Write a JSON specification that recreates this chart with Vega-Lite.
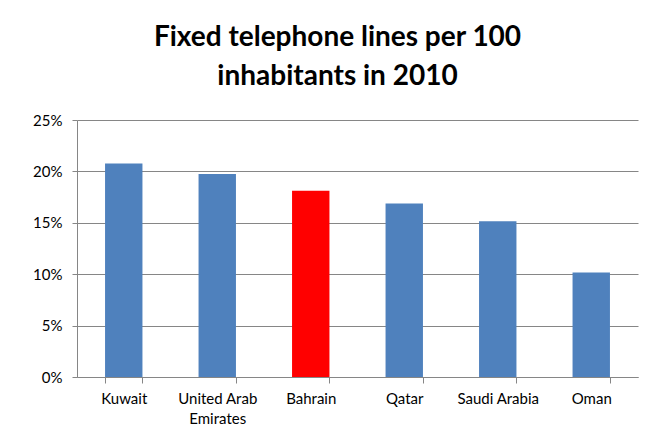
{
  "$schema": "https://vega.github.io/schema/vega-lite/v6.json",
  "autosize": {"type": "none"},
  "width": 561,
  "height": 257,
  "padding": {"left": 77, "top": 120, "right": 7, "bottom": 62},
  "background": "white",
  "title": {
    "text": ["Fixed telephone lines per 100", "inhabitants in 2010"],
    "font": "Lato",
    "fontSize": 28,
    "fontWeight": "bold",
    "color": "#000000",
    "lineHeight": 39,
    "anchor": "middle",
    "dx": -20,
    "offset": 22
  },
  "data": {
    "values": [
      {"country": "Kuwait", "value": 0.2078},
      {"country": "United Arab Emirates", "value": 0.1974},
      {"country": "Bahrain", "value": 0.1811},
      {"country": "Qatar", "value": 0.1688},
      {"country": "Saudi Arabia", "value": 0.1516},
      {"country": "Oman", "value": 0.1016}
    ]
  },
  "mark": {"type": "bar"},
  "encoding": {
    "x": {
      "field": "country",
      "type": "nominal",
      "sort": null,
      "scale": {"paddingInner": 0.6, "paddingOuter": 0.3},
      "axis": {
        "title": null,
        "labelAngle": 0,
        "labelFont": "Lato",
        "labelFontSize": 15,
        "labelColor": "#000000",
        "labelPadding": 8,
        "labelLineHeight": 20,
        "labelExpr": "datum.label == 'United Arab Emirates' ? ['United Arab', 'Emirates'] : datum.label",
        "tickBand": "extent",
        "tickSize": 6,
        "tickColor": "#868686",
        "domainColor": "#868686",
        "grid": false
      }
    },
    "y": {
      "field": "value",
      "type": "quantitative",
      "scale": {"domain": [0, 0.25], "nice": false},
      "axis": {
        "title": null,
        "format": ".0%",
        "values": [0, 0.05, 0.1, 0.15, 0.2, 0.25],
        "labelFont": "Lato",
        "labelFontSize": 15,
        "labelColor": "#000000",
        "labelPadding": 10,
        "tickSize": 5,
        "tickColor": "#868686",
        "domainColor": "#868686",
        "gridColor": "#868686",
        "gridOpacity": 1
      }
    },
    "color": {
      "condition": {"test": "datum.country === 'Bahrain'", "value": "#FF0000"},
      "value": "#4F81BD"
    }
  },
  "config": {
    "view": {"stroke": null}
  }
}
